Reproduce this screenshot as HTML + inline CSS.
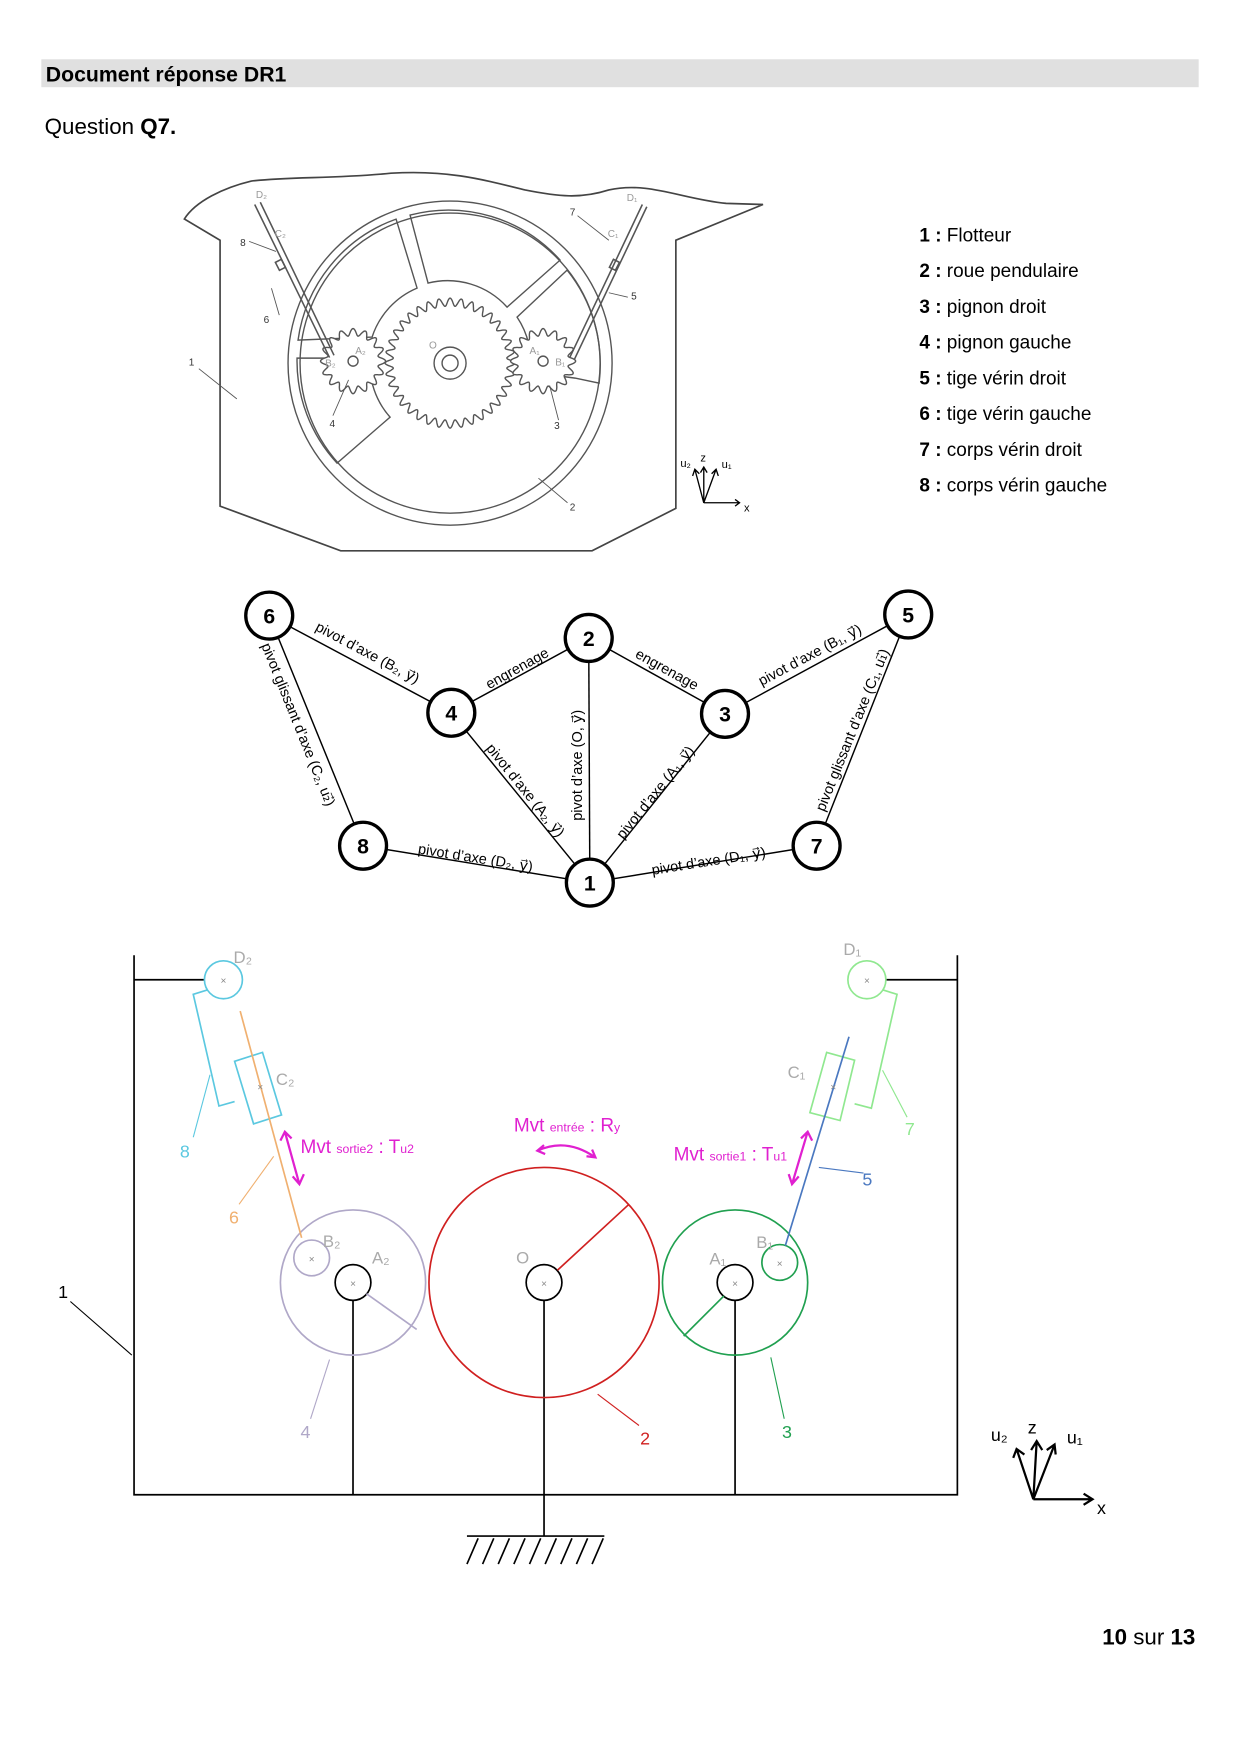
<!DOCTYPE html>
<html><head><meta charset="utf-8"><style>
html,body{margin:0;padding:0;background:#fff;}
svg{display:block;}
text{font-family:"Liberation Sans",sans-serif;}
</style></head><body>
<svg width="1240" height="1754" viewBox="0 0 1110 1570" xmlns="http://www.w3.org/2000/svg">
<!-- header -->
<rect x="37" y="53" width="1036" height="25" fill="#e0e0e0"/>
<text x="41" y="73" font-size="19" font-weight="bold">Document réponse DR1</text>
<text x="40" y="120" font-size="20">Question <tspan font-weight="bold">Q7.</tspan></text>

<!-- top drawing -->
<g fill="none" stroke="#444" stroke-width="1.5">
<path d="M165,196 C175,180 200,168 225,162 C260,158 300,160 350,155 C400,152 430,160 470,170 C500,176 520,178 545,170 C580,162 610,178 650,182 L683,183 L605,215 L605,455 L530,493 L305,493 L197,453 L197,215 Z"/>
</g>
<g transform="scale(0.8953)" fill="none" stroke="#555" stroke-width="1.4">
<circle cx="450" cy="363" r="162"/>
<circle cx="450" cy="363" r="150"/>
<!-- windows -->
<path d="M396,219 L417,288 A80,80 0 0 0 372,337 L298,340 A150,150 0 0 1 396,219 Z"/>
<path d="M410,215 L428,283 A80,80 0 0 1 507,307 L560,260 A150,150 0 0 0 410,215 Z"/>
<path d="M567,270 L517,317 A80,80 0 0 1 530,372 L575,378 L599,383 A150,150 0 0 0 567,270 Z"/>
<path d="M297,358 L370,358 A80,80 0 0 0 390,417 L337,463 A150,150 0 0 1 297,358 Z"/>
<path id="g0" d=""/>
<path id="g1" d="" fill="#fff"/>
<path id="g2" d="" fill="#fff"/>
<circle cx="450" cy="363" r="16"/><circle cx="450" cy="363" r="8"/>
<circle cx="353" cy="361" r="5"/><circle cx="543" cy="361" r="5"/>
</g>
<g fill="none" stroke="#555" stroke-width="1.4">
<path d="M228,183 L295,320 M233,181 L299,318"/>
<path d="M575,183 L510,320 M579,185 L514,322"/>
<rect x="248" y="233" width="6" height="8" transform="rotate(-27 251 237)"/>
<rect x="547" y="233" width="6" height="8" transform="rotate(27 550 237)"/>
</g>
<g font-size="9" fill="#333">
<text x="229" y="177" fill="#999">D₂</text><text x="561" y="180" fill="#999">D₁</text><text x="246" y="212" fill="#999">C₂</text><text x="544" y="212" fill="#999">C₁</text>
<text x="215" y="220">8</text><text x="510" y="193">7</text><text x="565" y="268">5</text><text x="236" y="289">6</text>
<text x="169" y="327">1</text><text x="295" y="382">4</text><text x="496" y="384">3</text><text x="510" y="457">2</text>
<text x="384" y="312" fill="#999">O</text><text x="318" y="317" fill="#999">A₂</text><text x="474" y="317" fill="#999">A₁</text><text x="291" y="328" fill="#999">B₂</text><text x="497" y="327" fill="#999">B₁</text>
</g>
<g stroke="#555" stroke-width="0.8" fill="none">
<path d="M223,216 L247,225 M243,258 L250,282 M178,330 L212,357 M298,372 L312,340 M500,376 L492,345 M508,450 L482,428 M545,262 L562,266 M517,193 L545,215"/>
</g>
<!-- small axes -->
<g stroke="#000" stroke-width="1.2" fill="none">
<path d="M630,450 L662,450 M658,447 L662,450 L658,453"/>
<path d="M630,450 L630,418 M627,423 L630,418 L633,423"/>
<path d="M630,450 L622,420 M620,426 L622,420 L626,424"/>
<path d="M630,450 L641,420 M637,424 L641,420 L643,426"/>
</g>
<g font-size="10"><text x="609" y="418">u₂</text><text x="627" y="413">z</text><text x="646" y="419">u₁</text><text x="666" y="458">x</text></g>

<!-- legend -->
<g font-size="17">
<text x="823" y="216"><tspan font-weight="bold">1 :</tspan> Flotteur</text>
<text x="823" y="248"><tspan font-weight="bold">2 :</tspan> roue pendulaire</text>
<text x="823" y="280"><tspan font-weight="bold">3 :</tspan> pignon droit</text>
<text x="823" y="312"><tspan font-weight="bold">4 :</tspan> pignon gauche</text>
<text x="823" y="344"><tspan font-weight="bold">5 :</tspan> tige vérin droit</text>
<text x="823" y="376"><tspan font-weight="bold">6 :</tspan> tige vérin gauche</text>
<text x="823" y="408"><tspan font-weight="bold">7 :</tspan> corps vérin droit</text>
<text x="823" y="440"><tspan font-weight="bold">8 :</tspan> corps vérin gauche</text>
</g>

<!-- graph -->
<g stroke="#000" stroke-width="1.3">
<line x1="241" y1="551" x2="404" y2="638"/><line x1="241" y1="551" x2="325" y2="757"/>
<line x1="404" y1="638" x2="527" y2="571"/><line x1="527" y1="571" x2="649" y2="639"/>
<line x1="527" y1="571" x2="528" y2="790"/><line x1="404" y1="638" x2="528" y2="790"/>
<line x1="649" y1="639" x2="528" y2="790"/><line x1="649" y1="639" x2="813" y2="550"/>
<line x1="813" y1="550" x2="731" y2="757"/><line x1="325" y1="757" x2="528" y2="790"/>
<line x1="731" y1="757" x2="528" y2="790"/>
</g>
<g fill="#fff" stroke="#000" stroke-width="3">
<circle cx="241" cy="551" r="21"/><circle cx="527" cy="571" r="21"/><circle cx="813" cy="550" r="21"/>
<circle cx="404" cy="638" r="21"/><circle cx="649" cy="639" r="21"/><circle cx="325" cy="757" r="21"/>
<circle cx="731" cy="757" r="21"/><circle cx="528" cy="790" r="21"/>
</g>
<g font-size="19" font-weight="bold" text-anchor="middle">
<text x="241" y="558">6</text><text x="527" y="578">2</text><text x="813" y="557">5</text><text x="404" y="645">4</text>
<text x="649" y="646">3</text><text x="325" y="764">8</text><text x="731" y="764">7</text><text x="528" y="797">1</text>
</g>
<g font-size="13" text-anchor="middle">
<text transform="translate(327,588) rotate(28)">pivot d’axe (B₂, y⃗)</text>
<text transform="translate(263,650) rotate(68)">pivot glissant d’axe (C₂, u₂⃗)</text>
<text transform="translate(465,602) rotate(-29)">engrenage</text>
<text transform="translate(595,603) rotate(29)">engrenage</text>
<text transform="translate(727,590) rotate(-28)">pivot d’axe (B₁, y⃗)</text>
<text transform="translate(767,655) rotate(-68)">pivot glissant d’axe (C₁, u₁⃗)</text>
<text transform="translate(521,685) rotate(-90)">pivot d’axe (O, y⃗)</text>
<text transform="translate(467,710) rotate(51)">pivot d’axe (A₂, y⃗)</text>
<text transform="translate(590,712) rotate(-51)">pivot d’axe (A₁, y⃗)</text>
<text transform="translate(425,772) rotate(9)">pivot d’axe (D₂, y⃗)</text>
<text transform="translate(635,775) rotate(-9)">pivot d’axe (D₁, y⃗)</text>
</g>

<!-- bottom kinematic diagram -->
<g stroke="#000" stroke-width="1.5" fill="none">
<path d="M120,855 L120,1338 L857,1338 L857,855"/>
<path d="M120,877 L183,877 M793,877 L857,877"/>
<path d="M316,1164 L316,1338 M487,1164 L487,1375 M658,1164 L658,1338"/>
<path d="M418,1375 L541,1375"/>
<path d="M428,1377 L418,1400 M442,1377 L432,1400 M456,1377 L446,1400 M470,1377 L460,1400 M484,1377 L474,1400 M498,1377 L488,1400 M512,1377 L502,1400 M526,1377 L516,1400 M540,1377 L530,1400"/>
<circle cx="316" cy="1148" r="16"/><circle cx="487" cy="1148" r="16"/><circle cx="658" cy="1148" r="16"/>
</g>
<circle cx="316" cy="1148" r="65" fill="none" stroke="#b0a8c8" stroke-width="1.5"/>
<circle cx="279" cy="1126" r="16" fill="none" stroke="#b0a8c8" stroke-width="1.5"/>
<line x1="328" y1="1158" x2="373" y2="1190" stroke="#b0a8c8" stroke-width="1.5"/>
<circle cx="487" cy="1148" r="103" fill="none" stroke="#d02020" stroke-width="1.5"/>
<line x1="499" y1="1137" x2="563" y2="1078" stroke="#d02020" stroke-width="1.5"/>
<circle cx="658" cy="1148" r="65" fill="none" stroke="#20a050" stroke-width="1.5"/>
<circle cx="698" cy="1130" r="16" fill="none" stroke="#20a050" stroke-width="1.5"/>
<line x1="648" y1="1160" x2="612" y2="1196" stroke="#20a050" stroke-width="1.5"/>
<circle cx="200" cy="877" r="17" fill="none" stroke="#5bc8e0" stroke-width="1.5"/>
<path d="M186,886 L173,890 L196,990 L210,986" fill="none" stroke="#5bc8e0" stroke-width="1.5"/>
<path d="M210,950 L235,942 L252,998 L227,1006 Z" fill="none" stroke="#5bc8e0" stroke-width="1.5"/>
<line x1="215" y1="905" x2="270" y2="1108" stroke="#f0b070" stroke-width="1.5"/>
<circle cx="776" cy="877" r="17" fill="none" stroke="#90e890" stroke-width="1.5"/>
<path d="M790,886 L803,890 L780,992 L765,988" fill="none" stroke="#90e890" stroke-width="1.5"/>
<path d="M740,942 L765,949 L752,1003 L725,996 Z" fill="none" stroke="#90e890" stroke-width="1.5"/>
<line x1="760" y1="928" x2="703" y2="1115" stroke="#4a78c0" stroke-width="1.5"/>
<g font-size="9" fill="#888" text-anchor="middle">
<text x="200" y="881">×</text><text x="776" y="881">×</text><text x="233" y="976">×</text><text x="746" y="976">×</text>
<text x="279" y="1130">×</text><text x="316" y="1152">×</text><text x="487" y="1152">×</text><text x="658" y="1152">×</text><text x="698" y="1134">×</text>
</g>
<g font-size="15" fill="#aaa">
<text x="209" y="862">D₂</text><text x="755" y="855">D₁</text><text x="247" y="971">C₂</text><text x="705" y="965">C₁</text>
<text x="289" y="1116">B₂</text><text x="333" y="1131">A₂</text><text x="462" y="1131">O</text><text x="635" y="1132">A₁</text><text x="677" y="1117">B₁</text>
</g>
<g stroke="#e020d0" stroke-width="2" fill="none">
<path d="M255,1013 L268,1060 M251,1021 L255,1013 L261,1019 M262,1053 L268,1060 L272,1051"/>
<path d="M723,1013 L709,1060 M717,1019 L723,1013 L727,1021 M706,1051 L709,1060 L715,1053"/>
<path d="M481,1030 Q507,1018 533,1036 M487,1025 L481,1030 L488,1033 M525,1035 L533,1036 L530,1029"/>
</g>
<g fill="#e020d0" font-size="17">
<text x="460" y="1013">Mvt <tspan font-size="11">entrée</tspan> : R<tspan font-size="11">y</tspan></text>
<text x="269" y="1032">Mvt <tspan font-size="11">sortie2</tspan> : T<tspan font-size="11">u2</tspan></text>
<text x="603" y="1039">Mvt <tspan font-size="11">sortie1</tspan> : T<tspan font-size="11">u1</tspan></text>
</g>
<g stroke-width="1" fill="none">
<path d="M173,1018 L188,962" stroke="#5bc8e0"/>
<path d="M214,1078 L245,1035" stroke="#f0b070"/>
<path d="M278,1270 L295,1217" stroke="#b0a8c8"/>
<path d="M572,1276 L535,1248" stroke="#d02020"/>
<path d="M702,1270 L690,1215" stroke="#20a050"/>
<path d="M773,1050 L733,1045" stroke="#4a78c0"/>
<path d="M812,1000 L790,958" stroke="#90e890"/>
<path d="M63,1165 L118,1213" stroke="#000"/>
</g>
<g font-size="16">
<text x="161" y="1036" fill="#5bc8e0">8</text><text x="205" y="1095" fill="#f0b070">6</text>
<text x="269" y="1287" fill="#b0a8c8">4</text><text x="573" y="1293" fill="#d02020">2</text>
<text x="700" y="1287" fill="#20a050">3</text><text x="772" y="1061" fill="#4a78c0">5</text>
<text x="810" y="1016" fill="#90e890">7</text><text x="52" y="1162" fill="#000">1</text>
</g>
<g stroke="#000" stroke-width="2" fill="none">
<path d="M925,1342 L978,1342 M970,1337 L978,1342 L970,1347"/>
<path d="M925,1342 L928,1290 M923,1298 L928,1290 L933,1298"/>
<path d="M925,1342 L944,1293 M937,1298 L944,1293 L945,1302"/>
<path d="M925,1342 L910,1297 M907,1305 L910,1297 L917,1302"/>
</g>
<g font-size="16"><text x="887" y="1290">u₂</text><text x="920" y="1283">z</text><text x="955" y="1292">u₁</text><text x="982" y="1355">x</text></g>

<text x="1070" y="1472" font-size="20" text-anchor="end"><tspan font-weight="bold">10</tspan> sur <tspan font-weight="bold">13</tspan></text>
</svg>
<script>
function gear(id,cx,cy,rm,amp,n){var d="";for(var i=0;i<=720;i++){var t=i/720*2*Math.PI;var r=rm+amp*Math.cos(n*t);var x=cx+r*Math.cos(t),y=cy+r*Math.sin(t);d+=(i?"L":"M")+x.toFixed(1)+","+y.toFixed(1);}document.getElementById(id).setAttribute("d",d+"Z");}
gear("g0",450,363,61,4,36);gear("g1",353,361,29,3.5,16);gear("g2",543,361,29,3.5,16);
</script>
</body></html>
